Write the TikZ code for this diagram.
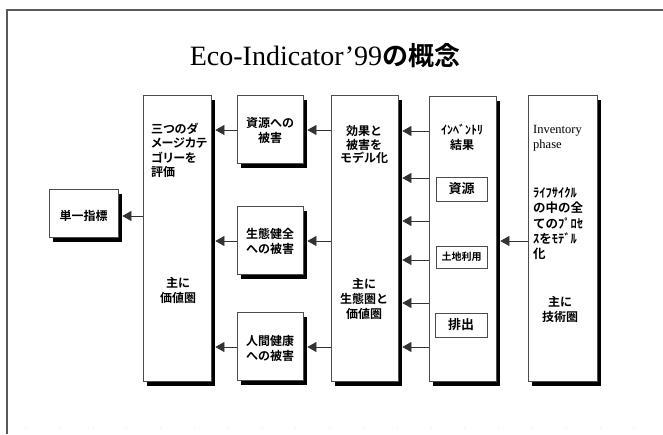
\documentclass[tikz,border=0pt]{standalone}
\usepackage{fontspec}
\setmainfont{Liberation Serif}
\newfontfamily\jpfont{Noto Sans CJK JP}[BoldFont={Noto Sans CJK JP Bold}]
\newfontfamily\jpp{Noto Sans CJK JP}[BoldFont={Noto Sans CJK JP Bold},RawFeature=+palt]
\usetikzlibrary{shadows,arrows.meta,calc}
\tikzset{
  box/.style={draw=black!70, line width=0.7pt, fill=white, inner sep=0pt,
    general shadow={fill=black, shadow xshift=4pt, shadow yshift=-5pt}},
  inbox/.style={draw=black!70, line width=0.7pt, fill=white, inner sep=0pt},
  lbl/.style={align=center, inner sep=0pt, font=\jpfont\bfseries\fontsize{12pt}{15pt}\selectfont},
  lbll/.style={align=left, inner sep=0pt, anchor=west, font=\jpp\bfseries\fontsize{12pt}{14.5pt}\selectfont},
  arr/.style={-{Triangle[length=9pt,width=10pt]}, line width=0.6pt, draw=black!80},
}
\begin{document}
\begin{tikzpicture}[x=1pt,y=-1pt]
\useasboundingbox (0,0) rectangle (663,434);
% frame
\draw[black!65, line width=2pt] (7,434) -- (7,10) -- (663,10);
\draw[black!10, line width=0.6pt, dash pattern=on 0.8pt off 33pt] (25,428) -- (663,428);
% title
\node[inner sep=0pt] (title) at (325,56) {\fontsize{28pt}{30pt}\selectfont Eco-Indicator’99{\jpfont\bfseries\fontsize{26pt}{30pt}\selectfont の概念}};
% boxes
\node[box, minimum width=69pt, minimum height=48pt] (tan) at (83.5,213) {};
\node[box, minimum width=68pt, minimum height=286pt] (hyoka) at (177,238) {};
\node[box, minimum width=66pt, minimum height=68pt] (shigen) at (270,129) {};
\node[box, minimum width=66pt, minimum height=68pt] (seitai) at (270,240) {};
\node[box, minimum width=66pt, minimum height=68pt] (ningen) at (270,346) {};
\node[box, minimum width=67pt, minimum height=286pt] (koka) at (364.5,238) {};
\node[box, minimum width=67pt, minimum height=285pt] (inv) at (462.5,238.5) {};
\node[box, minimum width=69pt, minimum height=286pt] (phase) at (562.5,238) {};
\node[inbox, minimum width=51pt, minimum height=24pt] (shigenb) at (461.5,189) {};
\node[inbox, minimum width=51pt, minimum height=22pt] (tochi) at (461.5,257) {};
\node[inbox, minimum width=52pt, minimum height=24pt] (haishutsu) at (461,325) {};
% texts
\node[lbl] (tantx) at (83.5,215.5) {単一指標};
\node[lbll] (hyokatx) at (151,150.5) {三つのダ\\メージカテ\\ゴリーを\\評価};
\node[lbl] (hyokatx2) at (178,290) {主に\\価値圏};
\node[lbl] (shigentx) at (270,130) {資源への\\被害};
\node[lbl] (seitaitx) at (270,241.5) {生態健全\\への被害};
\node[lbl] (ningentx) at (270,348) {人間健康\\への被害};
\node[lbl, font=\jpfont\bfseries\fontsize{12pt}{13.8pt}\selectfont] (kokatx) at (364,144.5) {効果と\\被害を\\モデル化};
\node[lbl] (kokatx2) at (364,298.5) {主に\\生態圏と\\価値圏};
\node[lbl] (invtx) at (462,137.5) {ｲﾝﾍﾞﾝﾄﾘ\\結果};
\node[lbl, font=\jpfont\bfseries\fontsize{13pt}{15pt}\selectfont] (shigenbtx) at (shigenb) {資源};
\node[lbl, font=\jpfont\bfseries\fontsize{10pt}{12pt}\selectfont] (tochitx) at (tochi) {土地利用};
\node[lbl, font=\jpfont\bfseries\fontsize{13pt}{15pt}\selectfont] (haishutsutx) at (haishutsu) {排出};
\node[align=left, inner sep=0pt, anchor=west, font=\fontsize{12.5pt}{14.5pt}\selectfont] (phasetx) at (533,138) {Inventory\\phase};
\node[lbll, font=\jpfont\bfseries\fontsize{12.5pt}{15.2pt}\selectfont] (phasetx2) at (533,223.5) {ﾗｲﾌｻｲｸﾙ\\の中の全\\てのﾌﾟﾛｾ\\ｽをﾓﾃﾞﾙ\\化};
\node[lbl] (phasetx3) at (560,309.5) {主に\\技術圏};
% levels
\coordinate (ya) at (0,216);
\coordinate (y1) at (0,130);
\coordinate (y2) at (0,241);
\coordinate (y3) at (0,347);
\coordinate (k1) at (0,131);
\coordinate (k2) at (0,178);
\coordinate (k3) at (0,221);
\coordinate (k4) at (0,260);
\coordinate (k5) at (0,303);
\coordinate (k6) at (0,347);
% arrows
\draw[arr] (hyoka.west |- ya) -- ($(tan.east |- ya)+(4,0)$);
\draw[arr] (shigen.west |- y1) -- ($(hyoka.east |- y1)+(4,0)$);
\draw[arr] (seitai.west |- y2) -- ($(hyoka.east |- y2)+(4,0)$);
\draw[arr] (ningen.west |- y3) -- ($(hyoka.east |- y3)+(4,0)$);
\draw[arr] (koka.west |- y1) -- ($(shigen.east |- y1)+(4,0)$);
\draw[arr] (koka.west |- y2) -- ($(seitai.east |- y2)+(4,0)$);
\draw[arr] (koka.west |- y3) -- ($(ningen.east |- y3)+(4,0)$);
\foreach \k in {k1,k2,k3,k4,k5,k6}
  \draw[arr] (inv.west |- \k) -- ($(koka.east |- \k)+(4,0)$);
\draw[arr] (phase.west |- y2) -- ($(inv.east |- y2)+(4,0)$);
\end{tikzpicture}
\end{document}
